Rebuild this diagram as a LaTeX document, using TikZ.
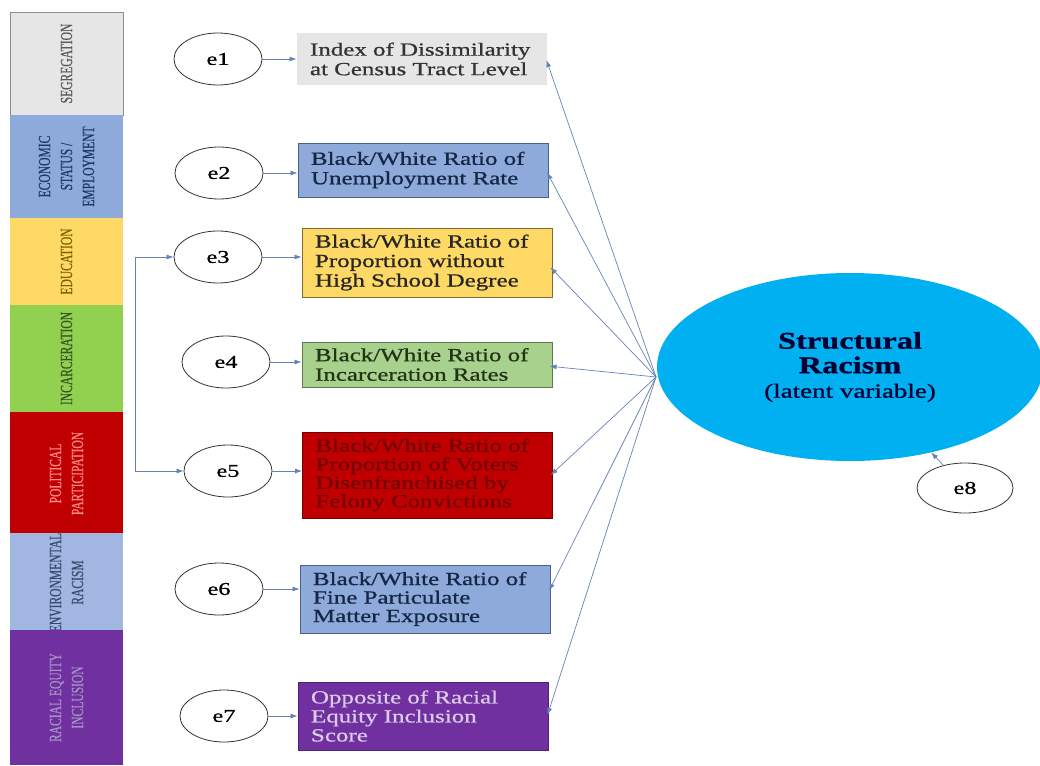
\documentclass[tikz,border=0pt]{standalone}
\usepackage{fontspec}
\setmainfont{Liberation Serif}
\newfontfamily\wide[FakeStretch=1.35, FakeBold=0.8]{Liberation Serif}
\newfontfamily\cond[FakeStretch=0.68, FakeBold=0.5]{Liberation Serif}
\usetikzlibrary{arrows.meta,shapes.geometric,calc}
\definecolor{segF}{HTML}{E7E6E6}\definecolor{segT}{HTML}{595959}
\definecolor{ecoF}{HTML}{8EAADB}\definecolor{ecoT}{HTML}{1F3864}
\definecolor{eduF}{HTML}{FFD966}\definecolor{eduT}{HTML}{7F6000}
\definecolor{incF}{HTML}{92D050}\definecolor{incT}{HTML}{375623}
\definecolor{polF}{HTML}{C00000}\definecolor{polT}{HTML}{FF8A8A}
\definecolor{envF}{HTML}{A2B6E2}\definecolor{envT}{HTML}{3B4A6B}
\definecolor{racF}{HTML}{7030A0}\definecolor{racT}{HTML}{A394C4}
\definecolor{b4F}{HTML}{A9D18E}
\definecolor{srF}{HTML}{00B0F0}
\definecolor{arr}{HTML}{6482B8}
\tikzset{
  band/.style={rotate=90, minimum width=#1, minimum height=113pt, inner sep=0pt, align=center,
    font=\cond\fontsize{17}{20}\selectfont},
  mbox/.style={rectangle, minimum width=250pt, text width=224pt, inner xsep=13pt, inner ysep=0pt,
    align=left, line width=0.9pt, font=\wide\fontsize{18.5}{19.5}\selectfont},
  err/.style={ellipse, draw=black!80, fill=white, line width=0.8pt, minimum width=88pt,
    minimum height=52pt, inner sep=0pt, font=\wide\fontsize{18}{18}\selectfont},
  fan/.style={draw=arr, line width=0.7pt, -{Latex[length=7pt,width=5pt]}, shorten >=-3pt},
  earr/.style={draw=arr, line width=0.7pt, -{Latex[length=7pt,width=5pt]}},
  cov/.style={draw=arr, line width=0.7pt, {Latex[length=7pt,width=5pt]}-{Latex[length=7pt,width=5pt]}}
}
\begin{document}
\begin{tikzpicture}[x=1pt,y=-1pt]
\useasboundingbox (0,0) rectangle (1040,765);
% left category column
\node[band=103pt, fill=segF, draw=black!45, line width=0.6pt, text=segT] (c1) at (66.5,63.5) {SEGREGATION};
\node[band=103pt, fill=ecoF, text=ecoT] (c2) at (66.5,166.5) {ECONOMIC\\[2pt]STATUS /\\[2pt]EMPLOYMENT};
\node[band=87pt, fill=eduF, text=eduT] (c3) at (66.5,261.5) {EDUCATION};
\node[band=107pt, fill=incF, text=incT] (c4) at (66.5,358.5) {INCARCERATION};
\node[band=123pt, fill=polF, text=polT] (c5) at (66.5,473.5) {POLITICAL\\[2pt]PARTICIPATION};
\node[band=95pt, fill=envF, text=envT] (c6) at (66.5,582.5) {ENVIRONMENTAL\\[2pt]RACISM};
\node[band=135pt, fill=racF, text=racT] (c7) at (66.5,697.5) {RACIAL EQUITY\\[2pt]INCLUSION};
% indicator boxes
\node[mbox, fill=segF, text=black!80, minimum height=52pt] (b1) at (422,59) {Index of Dissimilarity\\at Census Tract Level};
\node[mbox, fill=ecoF, draw=ecoT!80, text=ecoT!70!black, minimum height=54pt] (b2) at (423,170) {Black/White Ratio of\\Unemployment Rate};
\node[mbox, fill=eduF, draw=black!50!eduF, text=black!85, minimum height=69pt] (b3) at (427,262.5) {Black/White Ratio of\\Proportion without\\High School Degree};
\node[mbox, fill=b4F, draw=incT!80, text=incT!60!black, minimum height=45pt] (b4) at (427,364.5) {Black/White Ratio of\\Incarceration Rates};
\node[mbox, fill=polF, draw=polF!60!black, text=polF!60!black, minimum height=86pt, font=\wide\fontsize{18.5}{18.5}\selectfont] (b5) at (427.5,475) {Black/White Ratio of\\Proportion of Voters\\Disenfranchised by\\Felony Convictions};
\node[mbox, fill=ecoF, draw=ecoT!80, text=ecoT!70!black, minimum height=68pt, font=\wide\fontsize{18.5}{18.5}\selectfont] (b6) at (425,599) {Black/White Ratio of\\Fine Particulate\\Matter Exposure};
\node[mbox, fill=racF, draw=racF!70!black, text=racF!25!white, minimum height=68pt, font=\wide\fontsize{18.5}{19}\selectfont] (b7) at (423,716) {Opposite of Racial\\Equity Inclusion\\Score};
% error terms
\node[err] (e1) at (218,59) {e1};
\node[err] (e2) at (219,173) {e2};
\node[err] (e3) at (218,257) {e3};
\node[err] (e4) at (226,362) {e4};
\node[err] (e5) at (228,471) {e5};
\node[err] (e6) at (219,589) {e6};
\node[err] (e7) at (224,716) {e7};
% latent variable
\node[ellipse, fill=srF, minimum width=386pt, minimum height=188pt, inner sep=0pt, align=center,
  text=black!80!blue, font=\wide\fontsize{24}{24.5}\selectfont] (SR) at (850,367)
  {\textbf{Structural}\\\textbf{Racism}\\{\fontsize{20}{24.5}\selectfont (latent variable)}};
\node[err, minimum width=96pt, minimum height=50pt] (e8) at (965,488) {e8};
% connectors
\coordinate (hub) at (656,377);
\draw[fan] (hub) -- ($(b1.east)+(0,4)$);
\draw[fan] (hub) -- ($(b2.east)+(0,5)$);
\draw[fan] (hub) -- ($(b3.east)+(0,7)$);
\draw[fan] (hub) -- ($(b4.east)+(0,2)$);
\draw[fan] (hub) -- ($(b5.east)+(0,-2)$);
\draw[fan] (hub) -- ($(b6.east)+(0,-11)$);
\draw[fan] (hub) -- ($(b7.east)+(0,-4)$);
\foreach \i in {1,...,7} {\draw[earr] (e\i.east) -- (e\i.east -| b\i.west);}
\draw[earr] (e8) -- (SR);
\coordinate (covx) at (135,360);
\draw[cov] (e3.west) -- (e3.west -| covx) -- (e5.west -| covx) -- (e5.west);
\end{tikzpicture}
\end{document}
